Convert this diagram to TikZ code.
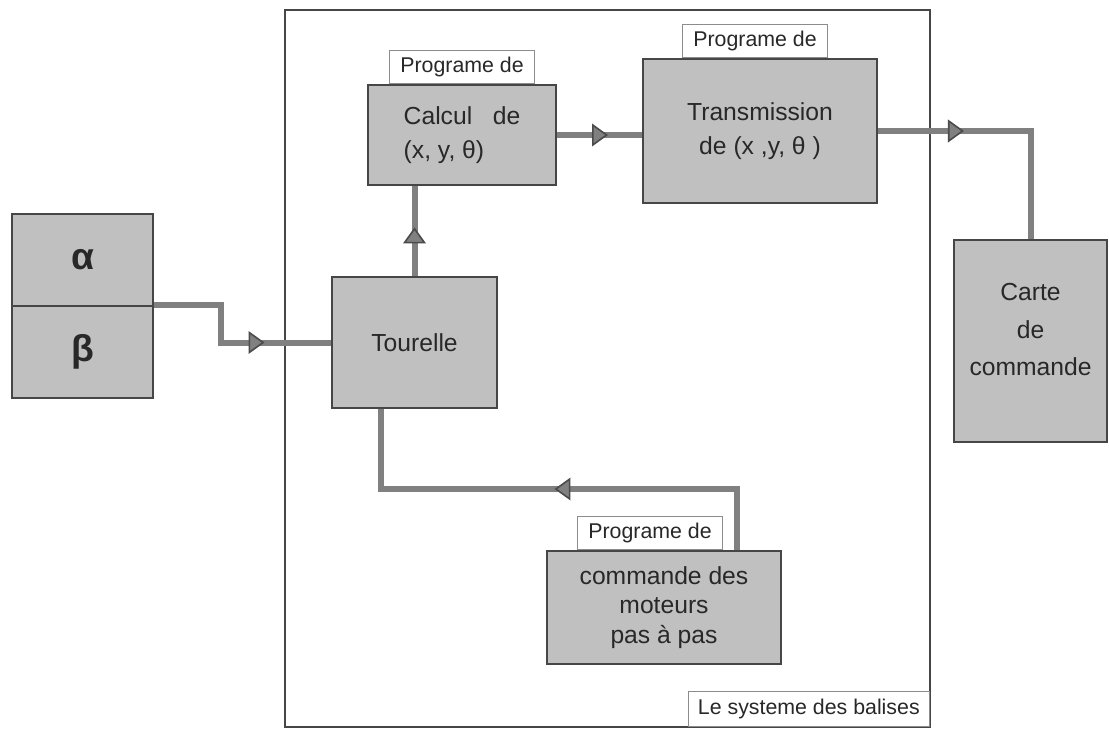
\documentclass[tikz,border=0pt]{standalone}
\usepackage{fontspec}
\setmainfont{Liberation Sans}
\usepackage{tikz}
\usetikzlibrary{arrows.meta,decorations.markings,positioning}

\definecolor{boxgray}{RGB}{192,192,192}
\definecolor{edgegray}{RGB}{70,70,70}
\definecolor{wiregray}{RGB}{128,128,128}
\definecolor{tipgray}{RGB}{75,75,75}
\definecolor{taggray}{RGB}{140,140,140}
\definecolor{textgray}{RGB}{40,40,40}

\begin{document}
\begin{tikzpicture}[x=0.75pt,y=-0.75pt,
    boxsize/.style 2 args={minimum width=#1*0.75pt,minimum height=#2*0.75pt},
    block/.style={draw=edgegray,line width=1.5pt,fill=boxgray,inner sep=0pt,
      text=textgray,font=\fontsize{18.5}{26}\selectfont,align=center},
    tag/.style={draw=taggray,line width=1pt,fill=white,inner sep=0pt,
      boxsize={145}{33},text=textgray,font=\fontsize{16}{19}\selectfont},
    wire/.style={draw=wiregray,line width=4.5pt},
    tipat/.style={postaction={decorate,decoration={markings,
      mark=at position #1 with {\arrow{Triangle[length=12pt,width=17pt,
        line width=1.2pt,color=tipgray,fill=wiregray]}}}}}]
    \useasboundingbox (0,0) rectangle (1109,729);

    % frame of the beacon system
    \draw[edgegray,line width=1.5pt] (285,10) rectangle (930,727);
    \node[tag,boxsize={241}{35},anchor=south east] (systag) at (930,727) {Le systeme des balises};

    % angles
    \node[block,boxsize={141}{92},font=\bfseries\fontsize{28}{30}\selectfont] (alpha) at (82.5,260) {α};
    \node[block,boxsize={141}{92},font=\bfseries\fontsize{28}{30}\selectfont] (beta) at (82.5,352) {β};

    % blocks
    \node[block,boxsize={165}{131}] (tour) at (414.5,342.5) {Tourelle};
    \node[block,boxsize={188}{100},align=left] (calc) at (462,135) {Calcul\ \ \ de\\(x, y, θ)};
    \node[block,boxsize={234}{144}] (trans) at (760,131) {Transmission\\de (x ,y, θ )};
    \node[block,boxsize={153}{202},font=\fontsize{18.5}{28}\selectfont] (carte) at (1030.5,341) {Carte\\de\\commande\\[-11pt]};
    \node[block,boxsize={234}{113},font=\fontsize{18.5}{22}\selectfont] (cmd) at (664,607.5) {commande des\\moteurs\\pas à pas};

    \node[tag,above=0pt of calc.north] (calctag) {Programe de};
    \node[tag,above=0pt of trans.north,xshift=-3.75pt] (transtag) {Programe de};
    \node[tag,above=0pt of cmd.north,xshift=-10.5pt] (cmdtag) {Programe de};

    % links
    \draw[wire,tipat=0.69] (beta.north east) -- ++(67,0) |- (tour.west);
    \draw[wire,tipat=0.54] (tour.north) -- (tour.north |- calc.south);
    \draw[wire,tipat=0.6] (calc.east) -- (calc.east -| trans.west);
    \draw[wire,tipat=0.33] (trans.east) -| (carte.north);
    \draw[wire,tipat=0.49] ([xshift=54.75pt]cmd.north) -- ++(0,-61) -| ([xshift=-25.1pt]tour.south);
\end{tikzpicture}
\end{document}
